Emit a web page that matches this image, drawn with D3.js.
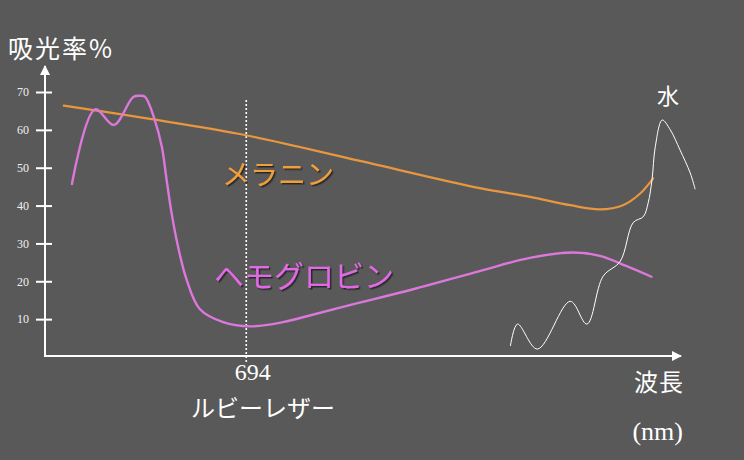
<!DOCTYPE html>
<html>
<head>
<meta charset="utf-8">
<script src="https://cdn.jsdelivr.net/npm/d3@7/dist/d3.min.js"></script>
<style>
html,body{margin:0;padding:0;background:#595959;}
svg{display:block;}
</style>
</head>
<body>
<svg id="chart" width="744" height="460"></svg>
<script>
// ---- data (schematic absorption spectra) ----
const yTicks = [10, 20, 30, 40, 50, 60, 70];
const rubyLaser = 694;
const rubyLabel = "ルビーレザー";

const hemoWave = [370, 413, 448, 484, 497, 506, 524, 537, 546, 555, 567, 583, 608, 651, 701, 762, 794, 881, 1004, 1128, 1221, 1301, 1351, 1401, 1447];
const hemoAbs  = [45.7, 65.4, 61.3, 68.7, 69.0, 68.7, 62.6, 55.6, 46.8, 38.2, 29.3, 20.5, 12.6, 9.2, 8.1, 9.2, 10.3, 13.5, 17.9, 22.7, 26.2, 27.6, 26.7, 24.0, 21.2];

const melWave = [355, 515, 682, 905, 1128, 1221, 1296, 1351, 1394, 1426, 1450];
const melAbs  = [66.4, 62.9, 58.9, 51.8, 44.6, 42.3, 40.1, 39.0, 40.1, 43.2, 47.2];

const waterWave = [1185, 1198, 1235, 1296, 1327, 1357, 1389, 1413, 1432, 1441, 1448, 1454, 1467, 1482, 1500, 1519, 1528];
const waterAbs  = [3.0, 8.7, 2.1, 14.7, 8.7, 21.3, 25.3, 35.5, 37.1, 40.8, 46.8, 55.5, 62.6, 60.0, 54.7, 48.6, 44.4];

const series = [
  {name: "メラニン", wave: melWave, abs: melAbs, color: "#E8973F", width: 2.2, labelColor: "#F29E3A"},
  {name: "ヘモグロビン", wave: hemoWave, abs: hemoAbs, color: "#DC78DC", width: 2.4, labelColor: "#E06AE4"},
  {name: "水", wave: waterWave, abs: waterAbs, color: "#FFFFFF", width: 1, labelColor: "#FFFFFF"}
];

// ---- layout ----
const svg = d3.select("#chart");
const x = d3.scaleLinear().domain([320, 1500]).range([45, 680]);
const y = d3.scaleLinear().domain([0, 70]).range([357, 92]);

const defs = svg.append("defs");
defs.append("marker").attr("id", "arrow").attr("viewBox", "0 0 10 10")
  .attr("refX", 9).attr("refY", 5).attr("markerWidth", 10).attr("markerHeight", 10)
  .attr("markerUnits", "userSpaceOnUse").attr("orient", "auto")
  .append("path").attr("d", "M0,0L10,5L0,10Z").attr("fill", "#fff");
const f = defs.append("filter").attr("id", "shadow").attr("x", "-10%").attr("y", "-10%").attr("width", "130%").attr("height", "140%");
f.append("feDropShadow").attr("dx", 1.5).attr("dy", 1.5).attr("stdDeviation", 0.6).attr("flood-color", "#222").attr("flood-opacity", 0.85);

// ---- axes ----
const yAxis = svg.append("g").attr("transform", `translate(${x.range()[0]},0)`)
  .call(d3.axisLeft(y).tickValues(yTicks).tickSize(9).tickPadding(7));
yAxis.select(".domain").remove();
yAxis.selectAll(".tick line").attr("x1", 7).attr("x2", -9).attr("stroke", "#fff").attr("stroke-width", 2);
yAxis.selectAll(".tick text").attr("fill", "#f0f0f0").attr("font-family", "Liberation Serif, serif").attr("font-size", 12);

const y0 = 356;
svg.append("line").attr("x1", 45).attr("y1", y0 + 1).attr("x2", 45).attr("y2", 66)
  .attr("stroke", "#fff").attr("stroke-width", 2).attr("marker-end", "url(#arrow)");
svg.append("line").attr("x1", 44).attr("y1", y0).attr("x2", 681).attr("y2", y0)
  .attr("stroke", "#fff").attr("stroke-width", 2).attr("marker-end", "url(#arrow)");

const xAxis = svg.append("g").attr("transform", `translate(0,${y0})`)
  .call(d3.axisBottom(x).tickValues([rubyLaser]).tickSize(0).tickPadding(0));
xAxis.select(".domain").remove();
xAxis.selectAll(".tick text").attr("fill", "#fff").attr("font-family", "Liberation Serif, serif")
  .attr("font-size", 24).attr("dx", 6).attr("dy", "1.0em");

// dotted ruby laser line
svg.append("line").attr("x1", x(rubyLaser)).attr("x2", x(rubyLaser)).attr("y1", 100).attr("y2", y0 + 7)
  .attr("stroke", "#fff").attr("stroke-width", 1.6).attr("stroke-dasharray", "2,2");

// ---- curves ----
const line = d3.line().x(d => x(d[0])).y(d => y(d[1])).curve(d3.curveCatmullRom.alpha(0.5));
series.forEach(s => {
  svg.append("path").datum(s.wave.map((w, i) => [w, s.abs[i]]))
    .attr("d", line).attr("fill", "none").attr("stroke", s.color).attr("stroke-width", s.width)
    .attr("stroke-linecap", "round");
});

// ---- texts ----
const cjk = "'Noto Sans CJK JP', 'Noto Sans CJK SC', sans-serif";
svg.append("text").attr("x", 8).attr("y", 58).attr("fill", "#fff").attr("font-family", cjk)
  .attr("font-size", 25).attr("letter-spacing", 2).text("吸光率%");
svg.append("text").attr("x", 684).attr("y", 391).attr("text-anchor", "end").attr("fill", "#fff")
  .attr("font-family", cjk).attr("font-size", 24).attr("letter-spacing", 1).text("波長");
svg.append("text").attr("x", 683).attr("y", 440).attr("text-anchor", "end").attr("fill", "#fff")
  .attr("font-family", "Liberation Serif, serif").attr("font-size", 26).text("(nm)");
svg.append("text").attr("x", 263).attr("y", 417).attr("text-anchor", "middle").attr("fill", "#fff")
  .attr("font-family", cjk).attr("font-size", 24).text(rubyLabel);

svg.append("text").attr("x", 222).attr("y", 185).attr("fill", series[0].labelColor).attr("font-family", cjk)
  .attr("font-size", 28).attr("filter", "url(#shadow)").text(series[0].name);
svg.append("text").attr("x", 214).attr("y", 287).attr("fill", series[1].labelColor).attr("font-family", cjk)
  .attr("font-size", 30).attr("filter", "url(#shadow)").text(series[1].name);
svg.append("text").attr("x", 657).attr("y", 104).attr("fill", series[2].labelColor).attr("font-family", cjk)
  .attr("font-size", 22).text(series[2].name);
</script>
</body>
</html>
